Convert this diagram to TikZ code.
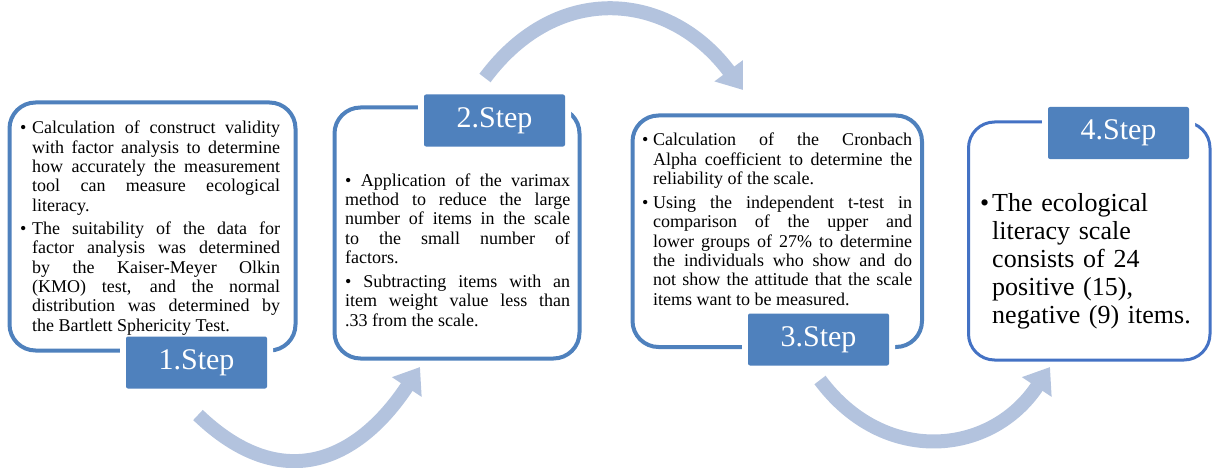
\documentclass[tikz,border=0pt]{standalone}
\usepackage{fontspec}
\setmainfont{Liberation Serif}
\usetikzlibrary{arrows.meta}
\definecolor{stepblue}{HTML}{4F81BD}
\definecolor{panelblue}{HTML}{4F81BD}
\definecolor{lastblue}{HTML}{4472C4}
\definecolor{arrowblue}{HTML}{B3C3DE}
\newcommand\itm[1]{\par\noindent\hangindent=#1\relax\hangafter=1\relax\hbox to #1{\textbullet\hss}}
\begin{document}
\begin{tikzpicture}[x=1pt,y=-1pt,
  panel/.style={draw=panelblue, line width=4pt, rounded corners=26pt, fill=white},
  steplabel/.style={fill=stepblue, rounded corners=2pt, minimum width=141pt, minimum height=52pt,
    text=white, font=\fontsize{30}{30}\selectfont, inner sep=0pt,
    preaction={draw=white, line width=12pt}},
  bodytext/.style={anchor=north west, inner sep=0pt, align=justify, text=black,
    font=\fontsize{18}{19.3}\selectfont},
  flowarrow/.style={draw=arrowblue, line width=14pt, -{Triangle[width=34pt,length=24pt]}}
]
\useasboundingbox (0,0) rectangle (1212,468);

% panels
\node[panel, minimum width=286pt, minimum height=248pt] (b1) at (152.5,226.5) {};
\node[panel, minimum width=245pt, minimum height=251pt] (b2) at (457,233) {};
\node[panel, minimum width=289.5pt, minimum height=231.5pt] (b3) at (777.25,231.25) {};
\node[panel, draw=lastblue, line width=3pt, minimum width=241.5pt, minimum height=238pt] (b4) at (1089.25,241) {};

% labels
\node[steplabel] (l1) at (196.5,362.5) {1.Step};
\node[steplabel] (l2) at (494.5,120.5) {2.Step};
\node[steplabel] (l3) at (818.5,339.5) {3.Step};
\node[steplabel] (l4) at (1118.5,133) {4.Step};

% texts
\node[bodytext, text width=260pt] (t1) at (20,114.5) {%
\itm{12pt}Calculation of construct validity\linebreak with factor analysis to determine\linebreak how accurately the measurement\linebreak tool can measure ecological\linebreak literacy.\par\vspace{4pt}%
\itm{12pt}The suitability of the data for\linebreak factor analysis was determined\linebreak by the Kaiser-Meyer Olkin\linebreak (KMO) test, and the normal\linebreak distribution was determined by\linebreak the Bartlett Sphericity Test.\par};

\node[bodytext, text width=225pt] (t2) at (345,173.5) {%
\noindent\textbullet\ Application of the varimax\linebreak method to reduce the large\linebreak number of items in the scale\linebreak to the small number of\linebreak factors.\par\vspace{4.7pt}%
\noindent\textbullet\ Subtracting items with an\linebreak item weight value less than\linebreak .33 from the scale.\par};

\node[bodytext, text width=270pt] (t3) at (642,126.5) {%
\itm{11pt}Calculation of the Cronbach\linebreak Alpha coefficient to determine the\linebreak reliability of the scale.\par\vspace{4.7pt}%
\itm{11pt}Using the independent t-test in\linebreak comparison of the upper and\linebreak lower groups of 27\% to determine\linebreak the individuals who show and do\linebreak not show the attitude that the scale\linebreak items want to be measured.\par};

\node[bodytext, align=left, text width=225pt, font=\fontsize{26}{28}\selectfont] (t4) at (980,183) {%
\itm{12pt}The ecological\newline literacy scale\newline consists of 24\newline positive (15),\newline negative (9) items.\par};

% arrows
\coordinate (a1s) at (198,415);
\coordinate (a1e) at (420,367);
\coordinate (a2s) at (485,78);
\coordinate (a2e) at (743,90);
\coordinate (a3s) at (820,380);
\coordinate (a3e) at (1050,367);
\draw[flowarrow] (a1s) .. controls (280.8,494.4) and (356.8,462.5) .. (a1e);
\draw[flowarrow] (a2s) .. controls (558,-20) and (670,-8) .. (a2e);
\draw[flowarrow] (a3s) .. controls (884,466) and (991,456) .. (a3e);
\end{tikzpicture}
\end{document}
